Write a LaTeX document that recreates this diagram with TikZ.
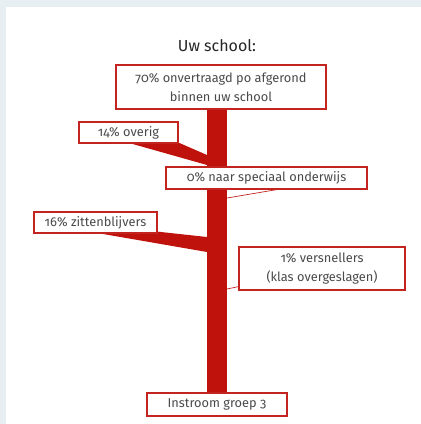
\documentclass[tikz,border=0pt]{standalone}
\usepackage{fontspec}
\setmainfont{Fira Sans}[Numbers=OldStyle]
\usetikzlibrary{backgrounds}
\definecolor{stemred}{HTML}{C0120C}
\definecolor{boxred}{HTML}{C42420}
\definecolor{textgrey}{HTML}{4A4A4A}
\definecolor{framebg}{HTML}{E8EFF2}

\begin{document}
\begin{tikzpicture}[x=1pt, y=-1pt,
  flowbox/.style={draw=boxred, line width=1.3pt, fill=white, inner sep=0pt,
    align=center, text=textgrey, font=\fontsize{12.8}{19}\selectfont},
  stem/.style={fill=stemred},
  thinlink/.style={draw=boxred, line width=0.7pt}]
% Fix the page size
\useasboundingbox (0,0) rectangle (421,424);

% Title and the boxes with the percentages
\node[font=\fontsize{16}{18}\selectfont, text=black!85] (title) at (217,46) {Uw school:};
\node[flowbox, minimum width=210pt, minimum height=44pt] (afgerond) at (221,87) {70\% onvertraagd po afgerond\\binnen uw school};
\node[flowbox, minimum width=99pt, minimum height=21pt] (overig) at (128.5,132.5) {14\% overig};
\node[flowbox, minimum width=201pt, minimum height=22pt] (speciaal) at (266.5,178) {0\% naar speciaal onderwijs};
\node[flowbox, minimum width=123pt, minimum height=21pt] (zitten) at (95.5,222.5) {16\% zittenblijvers};
\node[flowbox, minimum width=166pt, minimum height=43pt] (versnellers) at (322,268.5) {1\% versnellers\\(klas overgeslagen)};
\node[flowbox, minimum width=140pt, minimum height=23pt] (instroom) at (217,404.5) {Instroom groep 3};

% Points where the branches meet the stem
\coordinate (overig-top) at (207,155);
\coordinate (overig-bot) at (207,165);
\coordinate (zitten-top) at (207,237);
\coordinate (zitten-bot) at (207,252);
\coordinate (speciaal-in) at (227,198);
\coordinate (versnellers-in) at (227,289);

\begin{scope}[on background layer]
% Frame and white panel
\fill[framebg] (0,0) rectangle (421,424);
\fill[white] (6,7) rectangle (421,424);
% Stem from instroom up to the top box
\fill[stem] ([xshift=-10pt]instroom.north |- afgerond.south) rectangle ([xshift=10pt]instroom.north);
% Branches
\fill[stem] ([yshift=1pt]overig.south east) -- (overig-top) -- (overig-bot) -- (115,139) -- cycle;
\fill[stem] ([yshift=2pt]zitten.south east) -- (zitten-top) -- (zitten-bot) -- (80,230) -- cycle;
\end{scope}

% Thin lines for the small groups
\draw[thinlink] ([xshift=10pt]speciaal.south) -- (speciaal-in);
\draw[thinlink] ([yshift=4pt]versnellers.south west) -- (versnellers-in);
\end{tikzpicture}
\end{document}
